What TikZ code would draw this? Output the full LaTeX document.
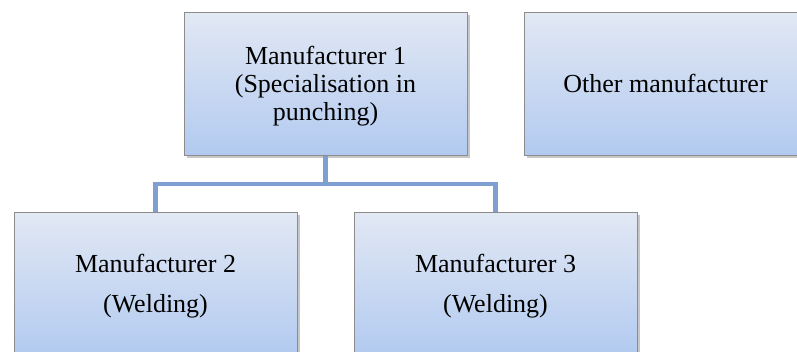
\documentclass[tikz,border=0pt]{standalone}
\usepackage{fontspec}
\setmainfont{Liberation Serif}
\usetikzlibrary{shadows}
\definecolor{boxtop}{RGB}{226,232,244}
\definecolor{boxbot}{RGB}{178,202,240}
\definecolor{boxedge}{RGB}{140,140,140}
\definecolor{connblue}{RGB}{126,159,208}
\tikzset{
  orgbox/.style={rectangle, draw=boxedge, line width=1pt,
    top color=boxtop, bottom color=boxbot,
    minimum width=283pt, minimum height=143pt, inner sep=0pt,
    align=center, font=\fontsize{26}{28}\selectfont,
    drop shadow={shadow xshift=2.5pt, shadow yshift=-2.5pt, opacity=0.22, fill=black}},
  conn/.style={draw=connblue, line width=4.5pt}
}
\begin{document}
\begin{tikzpicture}[x=1pt,y=-1pt]
\useasboundingbox (0,0) rectangle (797,351);
\clip (0,0) rectangle (797,351);
\node[orgbox] (b1) at (325.5,83.5) {\rule{0pt}{24.5pt}Manufacturer 1\\(Specialisation in\\punching)};
\node[orgbox] (other) at (665.5,83.5) {Other manufacturer};
\node[orgbox] (b2) at (155.5,283.5) {\rule{0pt}{22.6pt}Manufacturer 2\\[12pt](Welding)};
\node[orgbox] (b3) at (495.5,283.5) {\rule{0pt}{22.6pt}Manufacturer 3\\[12pt](Welding)};
\coordinate (j) at (326.5,184);
\draw[conn] (b1.south) -- (b1.south |- j);
\draw[conn] (b2.north) -- (b2.north |- j) -- (b3.north |- j) -- (b3.north);
\end{tikzpicture}
\end{document}
